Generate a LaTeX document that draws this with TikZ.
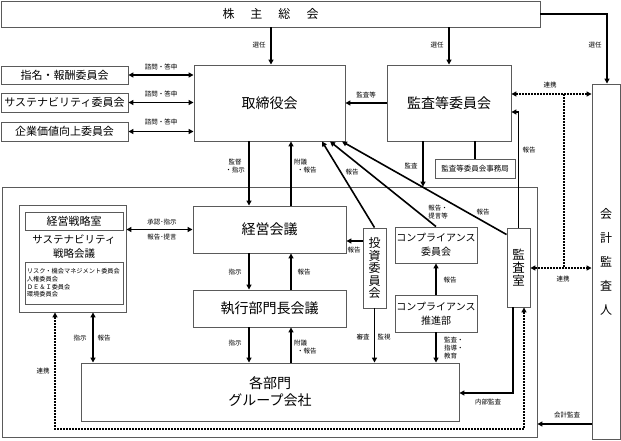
\documentclass[tikz,border=0pt]{standalone}
\usepackage{fontspec}
\setmainfont{Noto Sans CJK JP}
\usetikzlibrary{arrows.meta,calc}
\definecolor{boxgray}{RGB}{90,90,90}
\newcommand\fsz[2]{\fontsize{#1}{#2}\selectfont}
\tikzset{
  box/.style={draw=boxgray, line width=0.9pt, inner sep=0pt, align=center},
  ln/.style={line width=1.6pt, draw=black},
  arr/.style={ln, -{Triangle[length=5pt,width=5pt]}},
  darr/.style={ln, {Triangle[length=5pt,width=5pt]}-{Triangle[length=5pt,width=5pt]}},
  dotl/.style={line width=1.6pt, draw=black, dash pattern=on 1.6pt off 1.4pt},
  ddarr/.style={dotl, {Triangle[length=5pt,width=5pt]}-{Triangle[length=5pt,width=5pt]}},
  lab/.style={font=\fsz{6.5}{8}, inner sep=0pt, align=center},
}
\begin{document}
\begin{tikzpicture}[x=1pt,y=-1pt]
\useasboundingbox[fill=white] (0,0) rectangle (621,441);

% boxes
\node[box, minimum width=535pt, minimum height=250pt] (frame) at (269.5,312) {};
\node[box, minimum width=539pt, minimum height=26pt, font=\fsz{12}{14}] (kabu) at (270.5,14) {株\hspace{16pt}主\hspace{16pt}総\hspace{16pt}会};
\node[box, minimum width=151pt, minimum height=76pt, font=\fsz{14}{17}] (tori) at (269.5,103) {取締役会};
\node[box, minimum width=124pt, minimum height=76pt, font=\fsz{14}{17}] (kansa) at (449,103) {監査等委員会};
\node[box, minimum width=28pt, minimum height=355pt] (kaikei) at (606,261.5) {};
\node[inner sep=0pt, align=center, font=\fsz{12}{24}] (kaikeit) at (606,262) {会\\計\\監\\査\\人};

\node[box, minimum width=127pt, minimum height=18pt, font=\fsz{11}{13}] (shimei) at (64.5,75) {指名・報酬委員会};
\node[box, minimum width=127pt, minimum height=19pt, font=\fsz{11}{13}] (sust) at (64.5,102.5) {サステナビリティ委員会};
\node[box, minimum width=127pt, minimum height=19pt, font=\fsz{11}{13}] (kigyo) at (64.5,131.5) {企業価値向上委員会};

\node[box, minimum width=80pt, minimum height=19pt, font=\fsz{7.5}{9}] (jimu) at (475,168.5) {監査等委員会事務局};

\node[box, minimum width=107pt, minimum height=107pt] (senr) at (72.5,258.5) {};
\node[box, minimum width=98pt, minimum height=18pt, font=\fsz{11}{13}] (ksr) at (74,221) {経営戦略室};
\node[inner sep=0pt, align=center, font=\fsz{10.5}{14}] (sstxt) at (74,247) {サステナビリティ\\戦略会議};
\node[box, minimum width=98pt, minimum height=42pt, text width=94pt, align=left, font=\fsz{6.2}{7.7}] (ilist) at (74,283) {リスク・機会マネジメント委員会\\人権委員会\\ＤＥ＆Ｉ委員会\\環境委員会};

\node[box, minimum width=153pt, minimum height=47pt, font=\fsz{14}{17}] (keiei) at (269.5,229.5) {経営会議};
\node[box, minimum width=153pt, minimum height=37pt, font=\fsz{14}{17}] (shikko) at (269.5,308.5) {執行部門長会議};
\node[box, minimum width=378pt, minimum height=58pt, font=\fsz{14}{17}] (kaku) at (270,392) {各部門\\グループ会社};
\node[box, minimum width=23pt, minimum height=80pt, font=\fsz{12}{12.5}] (toushi) at (374.5,268) {投\\資\\委\\員\\会};
\node[box, minimum width=82pt, minimum height=36pt, font=\fsz{10}{14}] (ciin) at (436,245) {コンプライアンス\\委員会};
\node[box, minimum width=82pt, minimum height=37pt, font=\fsz{10}{14}] (csui) at (436,313.5) {コンプライアンス\\推進部};
\node[box, minimum width=23pt, minimum height=79pt, font=\fsz{12.5}{13}] (shitsu) at (518.5,267.5) {監\\査\\室};

% helper coordinates
\coordinate (xs1) at (271,0);
\coordinate (xs2) at (449,0);
\coordinate (xs3) at (607,0);
\coordinate (xa) at (249,0);
\coordinate (xb) at (291,0);
\coordinate (xk) at (423,0);
\coordinate (r1) at (564,94);
\coordinate (r2) at (564,268);
\coordinate (kr) at (519,112);
\coordinate (yt) at (0,241);
\coordinate (kn) at (513,393);
\coordinate (d1) at (55,429);
\coordinate (d2) at (524,429);
\coordinate (xs) at (93,0);
\coordinate (ka) at (0,424);
\coordinate (t1) at (322,0);
\coordinate (t2) at (330,0);
\coordinate (t3) at (342,0);

% connectors
\draw[arr] (xs1 |- kabu.south) -- (xs1 |- tori.north);
\draw[arr] (xs2 |- kabu.south) -- (xs2 |- kansa.north);
\draw[arr] (kabu.east) -- (kabu.east -| xs3) -- (xs3 |- kaikei.north);

\draw[darr] (shimei.east) -- (shimei.east -| tori.west);
\draw[darr] (sust.east) -- (sust.east -| tori.west);
\draw[darr] (kigyo.east) -- (kigyo.east -| tori.west);
\draw[arr] (kansa.west) -- (kansa.west -| tori.east);

\draw[ddarr] (r1 -| kansa.east) -- (r1 -| kaikei.west);
\draw[dotl] (r1) -- (r2);
\draw[ddarr] (r2 -| shitsu.east) -- (r2 -| kaikei.west);

\draw[arr] (xa |- tori.south) -- (xa |- keiei.north);
\draw[arr] (xb |- keiei.north) -- (xb |- tori.south);
\draw[arr] (toushi.north) -- (t1 |- tori.south);
\draw[arr] (ciin.north) -- (t2 |- tori.south);
\draw[arr] ([yshift=-7pt]shitsu.north west) -- (t3 |- tori.south);
\draw[arr] (xk |- kansa.south) -- (xk |- frame.north);
\draw[ln] (jimu.north) -- (jimu.north |- kansa.south);
\draw[arr] (shitsu.north) -- (shitsu.north |- kr) -- (kr -| kansa.east);

\draw[darr] (keiei.west -| senr.east) -- (keiei.west);
\draw[arr] (yt -| toushi.west) -- (yt -| keiei.east);
\draw[arr] (xa |- keiei.south) -- (xa |- shikko.north);
\draw[arr] (xb |- shikko.north) -- (xb |- keiei.south);
\draw[arr] (xa |- shikko.south) -- (xa |- kaku.north);
\draw[arr] (xb |- kaku.north) -- (xb |- shikko.south);
\draw[arr] (toushi.south) -- (toushi.south |- kaku.north);
\draw[arr] (csui.north) -- (ciin.south);
\draw[arr] (csui.south) -- (csui.south |- kaku.north);
\draw[arr] (kn |- shitsu.south) -- (kn) -- (kn -| kaku.east);
\draw[darr] (xs |- senr.south) -- (xs |- kaku.north);
\draw[ddarr] (d1 |- senr.south) -- (d1) -- (d2) -- (d2 |- shitsu.south);
\draw[arr] (ka -| kaikei.west) -- (ka -| frame.east);

% labels
\node[lab] (l1) at (259,45) {選任};
\node[lab] (l2) at (437,45) {選任};
\node[lab] (l3) at (595,45) {選任};
\node[lab] (l4) at (161,67) {諮問・答申};
\node[lab] (l5) at (161,94) {諮問・答申};
\node[lab] (l6) at (161,122) {諮問・答申};
\node[lab] (l7) at (366,95) {監査等};
\node[lab] (l8) at (550,85) {連携};
\node[lab] (l9) at (235,166) {監督\\・指示};
\node[lab, anchor=west, align=left] (l10) at (294,166) {附議\\\hspace{3pt}・報告};
\node[lab] (l11) at (352,172) {報告};
\node[lab] (l12) at (411,166) {監査};
\node[lab] (l13) at (529,150) {報告};
\node[lab] (l14) at (438,212) {報告・\\提言等};
\node[lab] (l15) at (483,212) {報告};
\node[lab] (l16) at (162,222) {承認･指示};
\node[lab] (l17) at (162,237) {報告･提言};
\node[lab] (l18) at (354,250) {報告};
\node[lab] (l19) at (235,272) {指示};
\node[lab] (l20) at (304,272) {報告};
\node[lab] (l21) at (450,280) {報告};
\node[lab] (l22) at (235,343) {指示};
\node[lab, anchor=west, align=left] (l23) at (294,347) {附議\\\hspace{3pt}・報告};
\node[lab] (l24) at (363,337) {審査};
\node[lab] (l25) at (384,337) {監視};
\node[lab, anchor=west, align=left] (l26) at (444,348) {監査・\\指導・\\教育};
\node[lab] (l27) at (80,338) {指示};
\node[lab] (l28) at (104,338) {報告};
\node[lab] (l29) at (43,371) {連携};
\node[lab] (l30) at (488,402) {内部監査};
\node[lab] (l31) at (567,415) {会計監査};
\node[lab] (l32) at (563,279) {連携};
\end{tikzpicture}
\end{document}
